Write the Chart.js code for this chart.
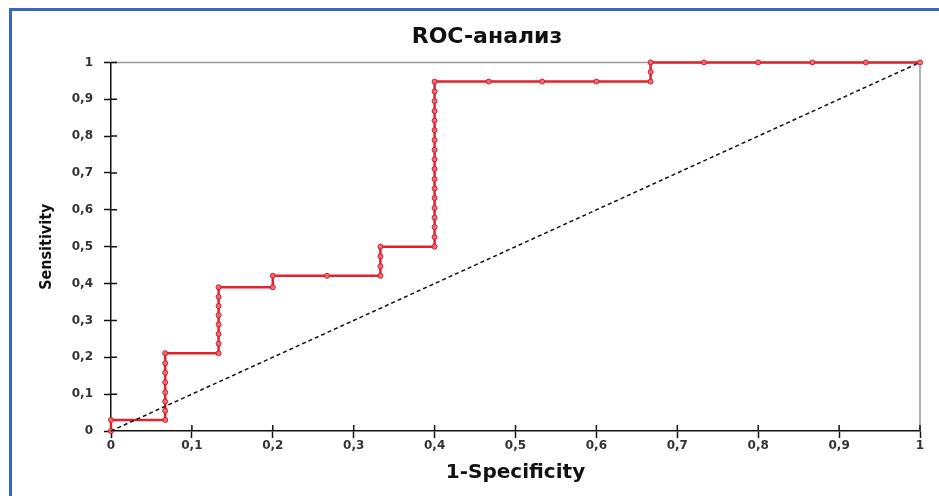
<!DOCTYPE html>
<html>
<head>
<meta charset="utf-8">
<script src="https://cdn.jsdelivr.net/npm/chart.js@4"></script>
<style>
  html, body { margin: 0; padding: 0; background: #fff; }
  #wrap { position: relative; width: 939px; height: 496px; overflow: hidden; }
  #frame { position: absolute; left: 9px; top: 8px; width: 1000px; height: 600px;
           border-left: 3px solid #3565bd; border-top: 3px solid #3565bd; pointer-events: none; }
  canvas { position: absolute; left: 0; top: 0; }
</style>
</head>
<body>
<div id="wrap">
  <canvas id="roc" width="939" height="496"></canvas>
  <div id="frame"></div>
</div>
<script>
// ROC curve points (1-specificity, sensitivity)
const rocFpr = [
  0, 0,
  0.067, 0.067, 0.067, 0.067, 0.067, 0.067, 0.067, 0.067,
  0.133, 0.133, 0.133, 0.133, 0.133, 0.133, 0.133, 0.133,
  0.2, 0.2,
  0.267,
  0.333, 0.333, 0.333, 0.333,
  0.4, 0.4, 0.4, 0.4, 0.4, 0.4, 0.4, 0.4, 0.4, 0.4, 0.4, 0.4, 0.4, 0.4, 0.4, 0.4, 0.4, 0.4,
  0.467, 0.533, 0.6,
  0.667, 0.667, 0.667,
  0.733, 0.8, 0.867, 0.933, 1
];
const rocTpr = [
  0, 0.03,
  0.03, 0.055, 0.08, 0.105, 0.132, 0.158, 0.184, 0.211,
  0.211, 0.237, 0.263, 0.289, 0.314, 0.339, 0.364, 0.39,
  0.39, 0.421,
  0.421,
  0.421, 0.447, 0.474, 0.5,
  0.5, 0.526, 0.553, 0.579, 0.605, 0.632, 0.658, 0.684, 0.711, 0.737, 0.763, 0.789, 0.816, 0.842, 0.868, 0.895, 0.921, 0.948,
  0.948, 0.948, 0.948,
  0.948, 0.974, 1,
  1, 1, 1, 1, 1
];
// reference diagonal
const diagX = [0, 1];
const diagY = [0, 1];

const tickValues = [0, 0.1, 0.2, 0.3, 0.4, 0.5, 0.6, 0.7, 0.8, 0.9, 1];
const tickLabels = ['0', '0,1', '0,2', '0,3', '0,4', '0,5', '0,6', '0,7', '0,8', '0,9', '1'];

const toPts = (xs, ys) => xs.map((x, i) => ({ x: x, y: ys[i] }));

// frame on top/right + tick marks reaching inside the plot
const framePlugin = {
  id: 'frame',
  beforeDatasetsDraw(chart) {
    const { ctx, chartArea: a, scales } = chart;
    ctx.save();
    ctx.strokeStyle = '#9a9a9a';
    ctx.lineWidth = 1.5;
    ctx.beginPath();
    ctx.moveTo(a.left, a.top);
    ctx.lineTo(a.right, a.top);
    ctx.lineTo(a.right, a.bottom);
    ctx.stroke();
    ctx.strokeStyle = '#111';
    ctx.lineWidth = 1.5;
    ctx.beginPath();
    tickValues.forEach(v => {
      const px = scales.x.getPixelForValue(v);
      if (v > 0) { ctx.moveTo(px, a.bottom); ctx.lineTo(px, a.bottom - 6); }
      const py = scales.y.getPixelForValue(v);
      if (v > 0) { ctx.moveTo(a.left, py); ctx.lineTo(a.left + 6, py); }
    });
    ctx.stroke();
    ctx.restore();
  }
};

const tickFont = { family: 'DejaVu Sans', size: 12, weight: 'bold' };

new Chart(document.getElementById('roc'), {
  type: 'scatter',
  data: {
    datasets: [
      {
        data: toPts(diagX, diagY),
        showLine: true,
        borderColor: '#111',
        borderWidth: 1.5,
        borderDash: [4, 3],
        pointRadius: 0,
        clip: 10
      },
      {
        data: toPts(rocFpr, rocTpr),
        showLine: true,
        borderColor: '#e0232c',
        borderWidth: 2.5,
        pointRadius: 2.5,
        pointBorderWidth: 1,
        pointBorderColor: '#c81e2a',
        pointBackgroundColor: 'rgba(245,110,120,0.9)',
        clip: 10
      }
    ]
  },
  plugins: [framePlugin],
  options: {
    responsive: false,
    animation: false,
    layout: { padding: { left: 54, right: 19, top: 0, bottom: 0 } },
    plugins: {
      legend: { display: false },
      tooltip: { enabled: false },
      title: {
        display: true,
        text: 'ROC-анализ',
        color: '#111',
        font: { family: 'DejaVu Sans', size: 22, weight: 'bold', lineHeight: 1.2 },
        padding: { top: 24, bottom: 12 }
      }
    },
    scales: {
      x: {
        type: 'linear',
        min: 0,
        max: 1,
        afterBuildTicks: s => { s.ticks = tickValues.map(v => ({ value: v })); },
        afterFit: s => { s.height = 65; },
        ticks: {
          color: '#333',
          font: tickFont,
          padding: 1,
          maxRotation: 0,
          callback: (v, i) => tickLabels[i]
        },
        grid: { drawOnChartArea: false, tickLength: 7, tickWidth: 1.5, tickColor: '#111' },
        border: { color: '#111', width: 1.5 },
        title: {
          display: true,
          text: '1-Specificity',
          color: '#111',
          font: { family: 'DejaVu Sans', size: 20, weight: 'bold', lineHeight: 1.2 },
          padding: { top: 0, bottom: 11 }
        }
      },
      y: {
        type: 'linear',
        min: 0,
        max: 1,
        afterBuildTicks: s => { s.ticks = tickValues.map(v => ({ value: v })); },
        afterFit: s => { s.width = 57; },
        ticks: {
          color: '#333',
          font: tickFont,
          padding: 11,
          callback: (v, i) => tickLabels[i]
        },
        grid: { drawOnChartArea: false, tickLength: 7, tickWidth: 1.5, tickColor: '#111' },
        border: { color: '#111', width: 1.5 },
        title: {
          display: true,
          text: 'Sensitivity',
          color: '#111',
          font: { family: "'DejaVu Sans Condensed', sans-serif", size: 16, weight: 'bold', lineHeight: 1.2 },
          padding: { top: -17, bottom: 0 }
        }
      }
    }
  }
});
</script>
</body>
</html>
